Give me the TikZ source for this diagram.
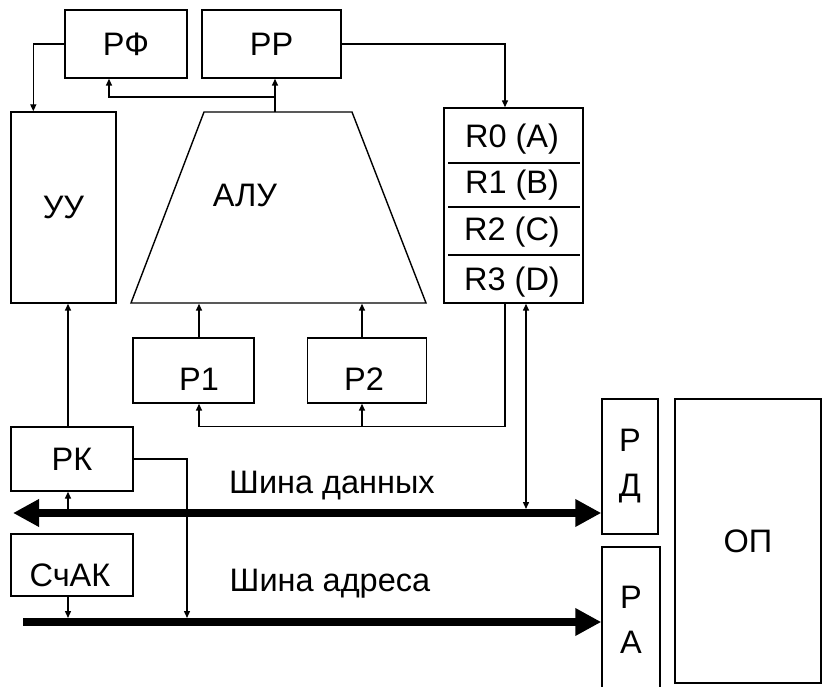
\documentclass[tikz,border=0pt]{standalone}
\usepackage{fontspec}
\setmainfont{Liberation Sans}
\usetikzlibrary{arrows.meta, positioning, calc}

\tikzset{
  blk/.style={draw, line width=1.4pt, inner sep=0pt, align=center},
  link/.style={line width=1.4pt, -{Triangle[length=7pt,width=6pt]}},
  duplex/.style={line width=1.4pt, {Triangle[length=7pt,width=6pt]}-{Triangle[length=7pt,width=6pt]}},
  bus/.style={line width=8pt, -{Triangle[length=26pt,width=26pt]}},
  duplexbus/.style={line width=8pt, {Triangle[length=26pt,width=26pt]}-{Triangle[length=26pt,width=26pt]}},
}

\begin{document}
\begin{tikzpicture}[x=1pt, y=-1pt, font=\fontsize{32.5}{45}\selectfont]
  \useasboundingbox (0,0) rectangle (823,687);

  % Registers on top
  \node[blk, minimum width=122, minimum height=68] (rf) at (126,44) {РФ};
  \node[blk, minimum width=139, minimum height=68] (rr) at (271.5,44) {РР};

  % Control unit
  \node[blk, minimum width=105, minimum height=191] (uu) at (63.5,207.5) {УУ};

  % ALU
  \coordinate (alu-bl) at (131,303);
  \coordinate (alu-tl) at (204,112);
  \coordinate (alu-tr) at (352,112);
  \coordinate (alu-br) at (426,303);
  \draw[line width=1.4pt] (alu-bl) -- (alu-tl) -- (alu-tr) -- (alu-br) -- cycle;
  \node (alu) at (245,195) {АЛУ};
  \coordinate (alutop) at (275,112);
  \coordinate (fork) at (275,97);

  % General purpose registers
  \node[blk, minimum width=139, minimum height=195] (regs) at (513.5,205.5) {};
  \node (r0) at (512,139) {R0 (A)};
  \node (r1) at (512,185) {R1 (B)};
  \node (r2) at (512,232) {R2 (C)};
  \node (r3) at (512,282) {R3 (D)};
  \draw[line width=1.2pt] (448,163) -- (580,163);
  \draw[line width=1.2pt] (448,207) -- (580,207);
  \draw[line width=1.2pt] (448,255) -- (580,255);

  % Operand registers
  \node[blk, minimum width=121, minimum height=65] (p1) at (193.5,370.5) {};
  \node (p1t) at (199,379) {Р1};
  \node[blk, minimum width=119, minimum height=65] (p2) at (367,370.5) {};
  \node (p2t) at (364,379) {Р2};

  % Command register and counter
  \node[blk, minimum width=122, minimum height=64] (rk) at (72,459) {РК};
  \node[blk, minimum width=122, minimum height=62] (schak) at (72,565) {};
  \node (schakt) at (70,575) {СчАК};

  % Memory side
  \node[blk, minimum width=56, minimum height=135] (rd) at (630,466.5) {Р\\Д};
  \node[blk, minimum width=58, minimum height=146] (ra) at (631,620) {Р\\А};
  \node[blk, minimum width=146, minimum height=284] (op) at (748,541) {ОП};

  % Buses
  \coordinate (dbl) at (13,513);
  \coordinate (dbr) at (rd.west |- dbl);
  \coordinate (abl) at (23,622);
  \coordinate (abr) at (ra.west |- abl);
  \draw[duplexbus] (dbl) -- (dbr);
  \draw[bus] (abl) -- (abr);
  \node (dblabel) at (332,486) {Шина данных};
  \node (ablabel) at (330,584) {Шина адреса};

  % Connections
  \draw[link] (rf.west) -| ([xshift=23pt]uu.north west);
  \draw[link] (alutop) -- (alutop |- rr.south);
  \draw[link] (fork) -| ([xshift=-17pt]rf.south);
  \draw[link] (rr.east) -| ([xshift=-8.5pt]regs.north);
  \draw[link] ([xshift=-4pt]rk.north) -- ([xshift=-4pt]rk.north |- uu.south);
  \draw[link] ([xshift=5.5pt]p1.north) -- ([xshift=5.5pt]p1.north |- uu.south);
  \draw[link] ([xshift=-5pt]p2.north) -- ([xshift=-5pt]p2.north |- uu.south);
  \draw[link] ([xshift=-8.5pt]regs.south) -- ++(0,123) -| ([xshift=5.5pt]p1.south);
  \draw[link] ([xshift=-5pt]p2.south |- 0,426) -- ([xshift=-5pt]p2.south);
  \draw[duplex] ([xshift=12.5pt]regs.south) -- ([xshift=12.5pt]regs.south |- 0,509);
  \draw[link] ([xshift=-4pt]rk.south |- 0,509) -- ([xshift=-4pt]rk.south);
  \draw[link] ([xshift=-4pt]schak.south) -- ([xshift=-4pt]schak.south |- 0,618);
  \draw[link] (rk.east) -| (187,618);
\end{tikzpicture}
\end{document}
